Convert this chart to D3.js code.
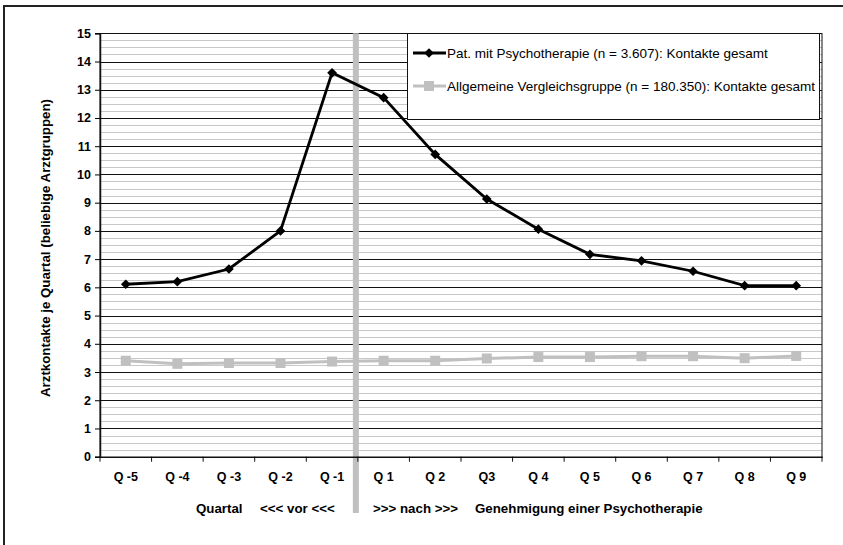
<!DOCTYPE html>
<html><head><meta charset="utf-8">
<script src="https://cdn.jsdelivr.net/npm/d3@7"></script>
<style>
html,body{margin:0;padding:0;background:#fff;overflow:hidden;}
svg{display:block;}
text{font-family:"Liberation Sans",Arial,sans-serif;}
</style></head>
<body><svg id="c" width="843" height="545"></svg>
<script>
const categories = ["Q -5","Q -4","Q -3","Q -2","Q -1","Q 1","Q 2","Q3","Q 4","Q 5","Q 6","Q 7","Q 8","Q 9"];
const psychoValues = [6.11,6.2,6.65,8.0,13.6,12.72,10.71,9.13,8.06,7.17,6.94,6.57,6.06,6.06];
const vergleichValues = [3.4,3.29,3.32,3.32,3.37,3.4,3.4,3.48,3.53,3.53,3.56,3.56,3.49,3.57];
const yTicks = [0,1,2,3,4,5,6,7,8,9,10,11,12,13,14,15];
const seriesNames = ["Pat. mit Psychotherapie (n = 3.607): Kontakte gesamt","Allgemeine Vergleichsgruppe (n = 180.350): Kontakte gesamt"];
const yTitle = "Arztkontakte je Quartal (beliebige Arztgruppen)";
const xTitleParts = ["Quartal","<<< vor <<<",">>> nach >>>","Genehmigung einer Psychotherapie"];

const svg = d3.select("#c");
const L=100,R=822,T=33.3,B=456.7;
const x = d3.scaleBand().domain(categories).range([L,R]).padding(0);
const y = d3.scaleLinear().domain([0,15]).range([B,T]);

// outer frame
svg.append("rect").attr("x",4).attr("y",6).attr("width",850).attr("height",560)
  .attr("fill","none").attr("stroke","#222").attr("stroke-width",2);

// minor gridlines
const minor = d3.range(0,15.001,0.25).filter(v=>Math.abs(v-Math.round(v))>1e-6);
svg.append("g").selectAll("line").data(minor).join("line")
  .attr("x1",L).attr("x2",R).attr("y1",d=>Math.round(y(d))+0.5).attr("y2",d=>Math.round(y(d))+0.5)
  .attr("stroke","#c8c8c8").attr("stroke-width",1);
// major gridlines
svg.append("g").selectAll("line").data(yTicks).join("line")
  .attr("x1",L).attr("x2",R).attr("y1",d=>Math.round(y(d))+0.5).attr("y2",d=>Math.round(y(d))+0.5)
  .attr("stroke","#111").attr("stroke-width",1);

// plot border
svg.append("rect").attr("x",L).attr("y",Math.round(T)+0.5).attr("width",R-L).attr("height",Math.round(B)-Math.round(T))
  .attr("fill","none").attr("stroke","#111").attr("stroke-width",1);

// y axis
const yAxis = svg.append("g").attr("transform",`translate(${L},0)`)
  .call(d3.axisLeft(y).tickValues(yTicks).tickSize(5).tickPadding(4).tickFormat(d3.format("d")));
yAxis.select(".domain").attr("stroke","#111").attr("stroke-width",1.5);
yAxis.selectAll("text").attr("font-size","12.5px").attr("font-weight","bold").attr("fill","#000");

// separator
const sepX = x("Q 1");
svg.append("line").attr("x1",sepX-2).attr("x2",sepX-2).attr("y1",T).attr("y2",513)
  .attr("stroke","#c0c0c0").attr("stroke-width",6);

// x axis
const xAxis = svg.append("g").attr("transform",`translate(0,${B})`)
  .call(d3.axisBottom(x).tickSize(0).tickPadding(15));
xAxis.select(".domain").attr("stroke","#111").attr("stroke-width",1.5);
xAxis.selectAll("text").attr("font-size","12.5px").attr("font-weight","bold").attr("fill","#000");
const bounds = categories.map(c=>x(c)).concat([R]);
svg.append("g").selectAll("line").data(bounds).join("line")
  .attr("x1",d=>d).attr("x2",d=>d).attr("y1",B).attr("y2",B+5)
  .attr("stroke","#111").attr("stroke-width",1);

// axis titles
const titleX = [196,260,373,475];
svg.append("g").selectAll("text").data(xTitleParts).join("text")
  .attr("x",(d,i)=>titleX[i]).attr("y",513).attr("font-size","13.3px").attr("font-weight","bold")
  .text(d=>d);
svg.append("text").attr("transform","translate(50,248) rotate(-90)").attr("text-anchor","middle")
  .attr("font-size","13.3px").attr("font-weight","bold").text(yTitle);

// series
const line = d3.line().x((d,i)=>x(categories[i])+x.bandwidth()/2).y(d=>y(d));
svg.append("path").datum(vergleichValues).attr("d",line).attr("fill","none")
  .attr("stroke","#c0c0c0").attr("stroke-width",3);
svg.append("g").selectAll("rect").data(vergleichValues).join("rect")
  .attr("x",(d,i)=>x(categories[i])+x.bandwidth()/2-5).attr("y",d=>y(d)-5)
  .attr("width",10).attr("height",10).attr("fill","#c0c0c0");
svg.append("path").datum(psychoValues).attr("d",line).attr("fill","none")
  .attr("stroke","#000").attr("stroke-width",2.8);
const diamond = d3.symbol().type(d3.symbolDiamond2).size(60);
svg.append("g").selectAll("path").data(psychoValues).join("path")
  .attr("d",diamond).attr("transform",(d,i)=>`translate(${x(categories[i])+x.bandwidth()/2},${y(d)})`)
  .attr("fill","#000");

// legend
const lg = svg.append("g");
lg.append("rect").attr("x",407.5).attr("y",33.5).attr("width",412).attr("height",86)
  .attr("fill","#fff").attr("stroke","#111").attr("stroke-width",1);
const ly = [53,86];
lg.append("line").attr("x1",413).attr("x2",446).attr("y1",ly[0]).attr("y2",ly[0]).attr("stroke","#000").attr("stroke-width",2.8);
lg.append("path").attr("d",diamond).attr("transform",`translate(429,${ly[0]})`).attr("fill","#000");
lg.append("line").attr("x1",413).attr("x2",446).attr("y1",ly[1]).attr("y2",ly[1]).attr("stroke","#c0c0c0").attr("stroke-width",3);
lg.append("rect").attr("x",424).attr("y",ly[1]-5).attr("width",10).attr("height",10).attr("fill","#c0c0c0");
lg.selectAll("text.l").data(seriesNames).join("text").attr("class","l")
  .attr("x",447).attr("y",(d,i)=>ly[i]+4.5).attr("font-size","13.5px").text(d=>d);
</script></body></html>
